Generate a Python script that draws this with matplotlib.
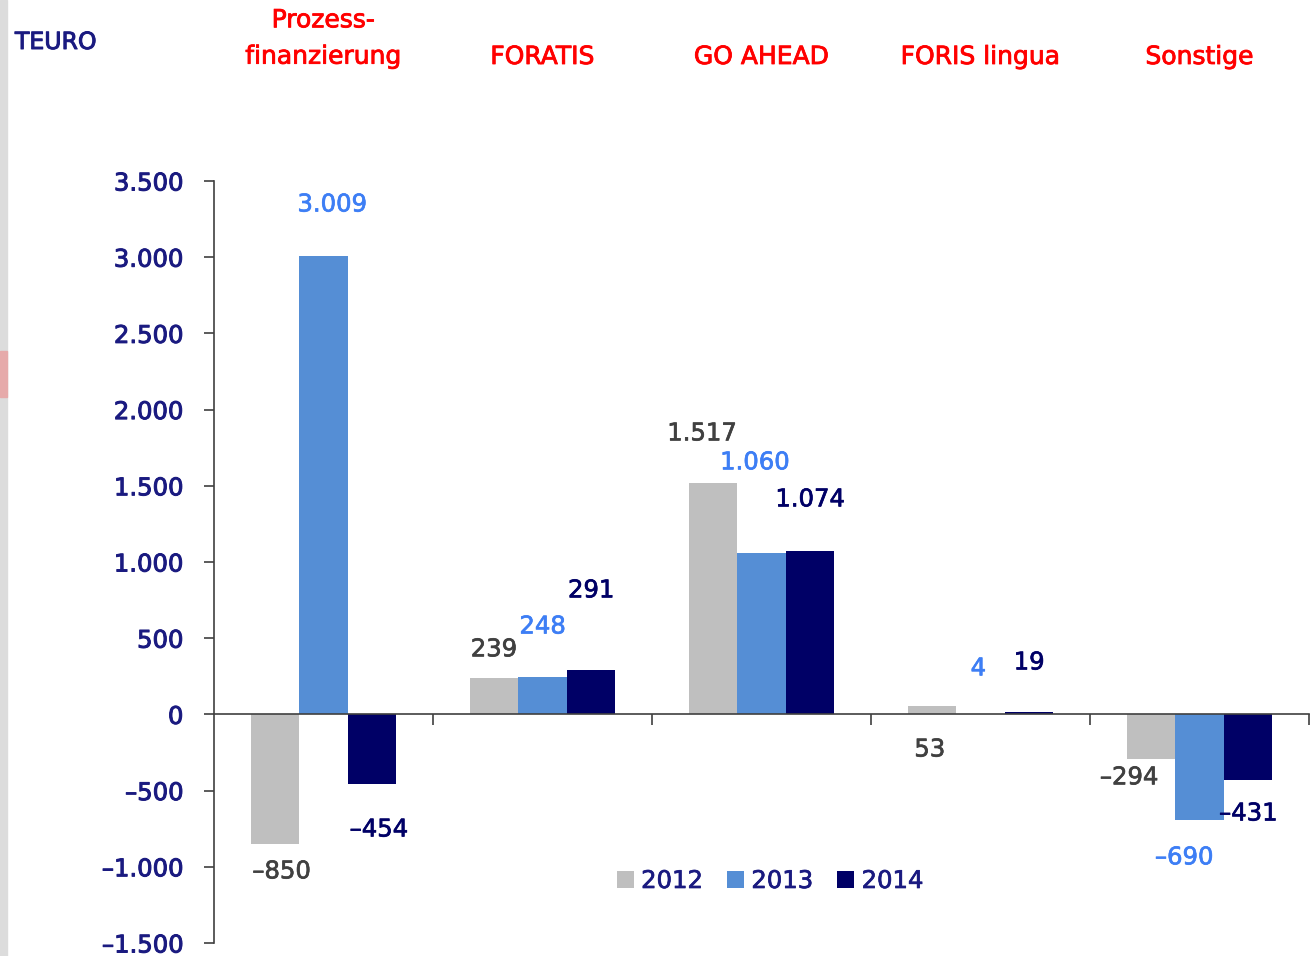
import matplotlib
matplotlib.use("Agg")
import matplotlib.pyplot as plt
import matplotlib.patheffects as pe
from matplotlib.patches import Rectangle
import numpy as np

categories = ["Prozess-\nfinanzierung", "FORATIS", "GO AHEAD", "FORIS lingua", "Sonstige"]
years = ["2012", "2013", "2014"]
v2012 = [-850, 239, 1517, 53, -294]
v2013 = [3009, 248, 1060, 4, -690]
v2014 = [-454, 291, 1074, 19, -431]
label2012 = ["–850", "239", "1.517", "53", "–294"]
label2013 = ["3.009", "248", "1.060", "4", "–690"]
label2014 = ["–454", "291", "1.074", "19", "–431"]
yticks = [-1500, -1000, -500, 0, 500, 1000, 1500, 2000, 2500, 3000, 3500]
ytick_labels = ["–1.500", "–1.000", "–500", "0", "500", "1.000", "1.500", "2.000", "2.500", "3.000", "3.500"]

# label placement (data y, x shift in category units) -- layout only
lab_y = [
    [-1030, 427, 1844, -230, -413],
    [3346, 577, 1654, 302, -938],
    [-755, 814, 1411, 341, -650],
]
lab_dx = [
    [0.03, 0.0, -0.05, -0.01, -0.10],
    [0.04, 0.0, -0.03, -0.01, -0.07],
    [0.03, 0.0, 0.00, 0.00, 0.00],
]

bar_colors = ["#bfbfbf", "#558ed5", "#000066"]
text_colors = ["#404040", "#3d7ef5", "#000066"]
navy = "#1a1a80"
red = "#ff0000"


def semi(color, lw=0.7):
    return [pe.withStroke(linewidth=lw, foreground=color)]


fig = plt.figure(figsize=(13.14, 9.56), dpi=100)
ax = fig.add_axes([214/1314, 1-943/956, (1309-214)/1314, (943-181)/956])

x = np.arange(len(categories))
w = 0.222
series = [v2012, v2013, v2014]
labels = [label2012, label2013, label2014]
for i, (vals, col) in enumerate(zip(series, bar_colors)):
    ax.bar(x + (i-1)*w, vals, width=w, color=col, label=years[i], zorder=2)
    for j in range(len(categories)):
        ax.text(x[j] + (i-1)*w + lab_dx[i][j], lab_y[i][j], labels[i][j],
                ha="center", va="center", fontsize=17.5, color=text_colors[i],
                path_effects=semi(text_colors[i], 0.5))

ax.set_xlim(-0.5, len(categories)-0.5)
ax.set_ylim(-1500, 3500)
ax.set_yticks(yticks)
ax.set_yticklabels(ytick_labels, color=navy, fontsize=17.5)
for lbl in ax.get_yticklabels():
    lbl.set_path_effects(semi(navy, 0.7))
ax.tick_params(axis="y", direction="out", length=7, width=1.2, color="#404040", pad=15)
ax.set_xticks(np.arange(0.5, len(categories)))
ax.set_xticklabels([])
ax.tick_params(axis="x", direction="out", length=8, width=1.2, color="#404040")
for s in ["top", "right"]:
    ax.spines[s].set_visible(False)
ax.spines["bottom"].set_position(("data", 0))
ax.spines["bottom"].set_zorder(3)
for s in ["bottom", "left"]:
    ax.spines[s].set_color("#404040")
    ax.spines[s].set_linewidth(1.2)

for j, c in enumerate(categories):
    yc = 38.5 if "\n" in c else 57
    fig.text((214 + 219*(j+0.5))/1314, 1-yc/956, c, ha="center", va="center",
             fontsize=18, color=red, linespacing=1.65, path_effects=semi(red, 0.6))

fig.text(56/1314, 1-42/956, "TEURO", ha="center", va="center", fontsize=17, color=navy,
         path_effects=semi(navy, 0.7))

leg = ax.legend(loc="center", bbox_to_anchor=((770-214)/1095, (943-881)/762), ncol=3,
                frameon=False, handlelength=0.7, handleheight=0.7, columnspacing=1.0,
                handletextpad=0.3, fontsize=17.5)
for t in leg.get_texts():
    t.set_color(navy)
    t.set_path_effects(semi(navy, 0.5))

fig.patches.append(Rectangle((0, 0), 7/1314, 1, transform=fig.transFigure, color="#dcdcdc", zorder=0))
fig.patches.append(Rectangle((0, 1-397/956), 7/1314, 46/956, transform=fig.transFigure, color="#e6aaaa", zorder=1))

fig.savefig("out.png", dpi=100)
